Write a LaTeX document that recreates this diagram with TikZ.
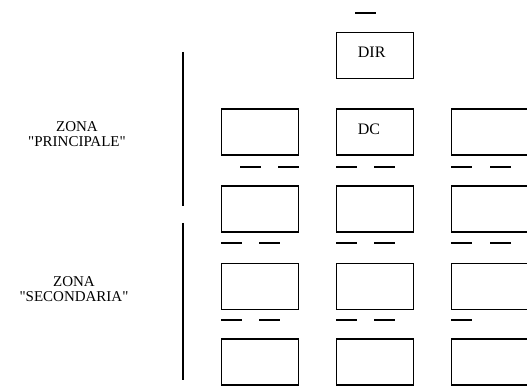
\documentclass[tikz,border=0pt]{standalone}
\usepackage{fontspec}
\setmainfont{Liberation Serif}[Ligatures=TeXOff]
\usetikzlibrary{positioning}

\tikzset{
	post/.style={draw,line width=1.6pt,minimum width=77pt,minimum height=46pt,inner sep=0pt},
	sigla/.style={anchor=base west,inner sep=0pt,font=\fontsize{16}{19}\selectfont},
	zona/.style={align=center,font=\fontsize{15}{15.6}\selectfont},
	trat/.style={line width=1.6pt}
}

\begin{document}
\begin{tikzpicture}[x=1pt,y=-1pt]
	\useasboundingbox (0,0) rectangle (527,387);
	\clip (0,0) rectangle (527,387);

	\node[post] (dir) at (375,55.5) {};
	\node[sigla] (dirtxt) at ([xshift=22pt,yshift=-26pt]dir.north west) {DIR};

	\foreach \r/\y in {2/132,3/209,4/286.5,5/362}
		\foreach \c/\x in {1/260,2/375,3/490}
			\node[post] (b\r\c) at (\x,\y) {};
	\node[sigla] (dctxt) at ([xshift=22pt,yshift=-26pt]b22.north west) {DC};

	\draw[trat] (183,52)--(183,206);
	\draw[trat] (183,223)--(183,380);
	\node[zona] (zprinc) at (77,134) {ZONA\\"PRINCIPALE"};
	\node[zona] (zsecond) at (74,289) {ZONA\\"SECONDARIA"};

	\foreach \p in {(355,13),
		(240,167),(278,167),(336,167),(374,167),(451,167),(490,167),
		(221,243),(259,243),(336,243),(374,243),(451,243),(490,243),
		(221,320),(259,320),(336,320),(374,320),(451,320)}
		\draw[trat] \p -- ++(21,0);
\end{tikzpicture}
\end{document}
